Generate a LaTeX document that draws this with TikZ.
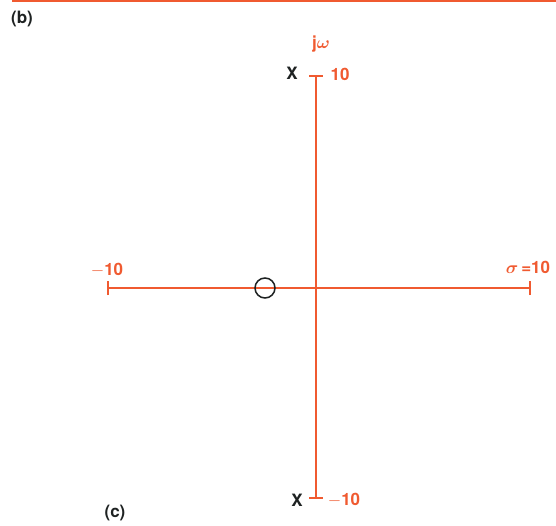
\documentclass[tikz,border=0pt]{standalone}
\usepackage{amsmath}
\usepackage{fontspec}
\setmainfont{TeX Gyre Heros}
\begin{document}
\begin{tikzpicture}[x=1pt,y=-1pt,
  axis/.style={draw=axred, line width=1.3pt},
  lbl/.style={text=axred, font=\fontsize{17}{19}\selectfont\bfseries, inner sep=0pt},
  blk/.style={text=ink, font=\fontsize{17}{19}\selectfont\bfseries, inner sep=0pt}]
\definecolor{axred}{HTML}{F05A30}
\definecolor{ink}{HTML}{1E2222}
\useasboundingbox (0,0) rectangle (556,525);
\fill[white] (0,0) rectangle (556,525);
\draw[axred, line width=2pt] (12,0.5) -- (556,0.5);
% axes
\coordinate (vt) at (316,76);
\coordinate (vb) at (316,498);
\coordinate (hl) at (108,288);
\coordinate (hr) at (530,288);
\draw[axis] (vt) -- (vb);
\draw[axis] (hl) -- (hr);
\draw[axis] ([xshift=-7]vt) -- ([xshift=7]vt);
\draw[axis] ([xshift=-7]vb) -- ([xshift=7]vb);
\draw[axis] ([yshift=-7]hl) -- ([yshift=7]hl);
\draw[axis] ([yshift=-7]hr) -- ([yshift=7]hr);
% zero
\node[draw=ink, line width=1.5pt, circle, minimum size=20pt, inner sep=0pt] (zero) at (265,288) {};
% labels
\node[lbl] (jw) at (321,44) {j$\boldsymbol{\omega}$};
\node[blk] (p1) at (292,73) {X};
\node[lbl] (t10) at (340,74) {10};
\node[lbl] (m10) at (107,270) {$-$10};
\node[lbl] (s10) at (528,267) {$\boldsymbol{\sigma}$\,=10};
\node[blk] (p2) at (297,500) {X};
\node[lbl] (b10) at (344,500) {$-$10};
\node[blk] (lb) at (22,19) {(b)};
\node[blk] (lc) at (115,513) {(c)};
\end{tikzpicture}
\end{document}
